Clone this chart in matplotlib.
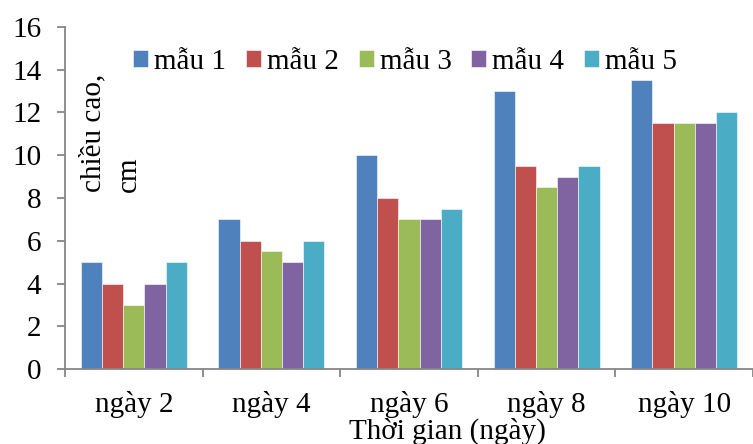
import numpy as np
import matplotlib
matplotlib.use("Agg")
import matplotlib.pyplot as plt

# số liệu
days = ["ngày 2", "ngày 4", "ngày 6", "ngày 8", "ngày 10"]
series = ["mẫu 1", "mẫu 2", "mẫu 3", "mẫu 4", "mẫu 5"]
mau1 = [5, 7, 10, 13, 13.5]
mau2 = [4, 6, 8, 9.5, 11.5]
mau3 = [3, 5.5, 7, 8.5, 11.5]
mau4 = [4, 5, 7, 9, 11.5]
mau5 = [5, 6, 7.5, 9.5, 12]
colors = ["#4F81BD", "#C0504D", "#9BBB59", "#8064A2", "#4BACC6"]

plt.rcParams["font.family"] = ["Liberation Serif", "DejaVu Serif"]
plt.rcParams["font.size"] = 21

fig = plt.figure(figsize=(7.53, 4.44), dpi=100)
ax = fig.add_axes([65 / 753, 75 / 444, 688 / 753, 342 / 444])

x = np.arange(len(days))
w = 0.154
for j, (vals, name, c) in enumerate(zip([mau1, mau2, mau3, mau4, mau5], series, colors)):
    ax.bar(x + (j - 2) * w, vals, width=w, color=c, edgecolor="white",
           linewidth=0.4, label=name)

ax.set_xlim(-0.5, -0.5 + 688 / 139)
ax.set_ylim(0, 16)
ax.set_yticks(range(0, 17, 2))
ax.set_xticks(x)
ax.set_xticklabels(days)
ax.set_xticks(np.arange(-0.5, 5, 1), minor=True)

grey = "#868686"
for s in ["top", "right"]:
    ax.spines[s].set_visible(False)
for s in ["left", "bottom"]:
    ax.spines[s].set_color(grey)
    ax.spines[s].set_linewidth(1.3)
ax.tick_params(axis="y", length=6, width=1.3, color=grey, pad=11)
ax.tick_params(axis="x", which="major", length=0, pad=16)
ax.tick_params(axis="x", which="minor", length=6, width=1.3, color=grey)

fig.text(93 / 753, 252 / 444, "chiều cao,", rotation=90, ha="center", va="bottom")
fig.text(129 / 753, 252 / 444, "cm", rotation=90, ha="center", va="bottom")
fig.text(447 / 753, 5 / 444, "Thời gian (ngày)", ha="center", va="baseline")

fig.legend(loc="center left", bbox_to_anchor=(133 / 753, 382 / 444), ncol=5,
           frameon=False, borderpad=0, borderaxespad=0, handlelength=0.52,
           handleheight=0.52, handletextpad=0.2, columnspacing=0.68)

fig.savefig("out.png", dpi=100)
